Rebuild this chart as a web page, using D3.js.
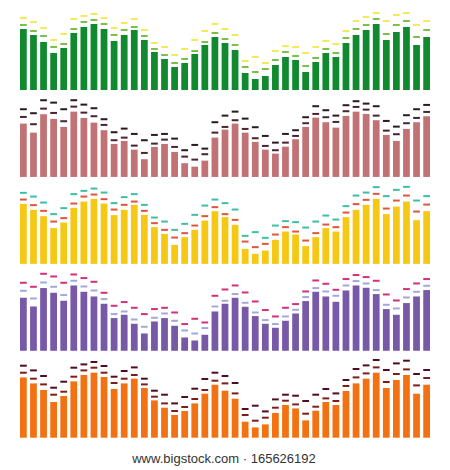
<!DOCTYPE html>
<html>
<head>
<meta charset="utf-8">
<script src="https://cdn.jsdelivr.net/npm/d3@7/dist/d3.min.js"></script>
<style>
  html, body { margin: 0; padding: 0; background: #ffffff; }
  svg { display: block; }
</style>
</head>
<body>
<script>
// ---- DATA ----
const bands = ["green", "rose", "yellow", "purple", "orange"];

const greenBars  = [61,55,48,37,42,57,63,66,61,49,55,60,50,38,31,23,27,36,45,53,47,40,17,11,14,25,33,30,18,28,37,33,47,55,60,66,50,58,63,45,53];
const greenLow   = [65,59,54,43,46,61,68,70,66,55,60,63,54,41,35,27,31,39,48,57,51,45,23,18,21,30,38,34,24,32,41,37,52,61,65,71,56,65,69,53,60];
const greenHigh  = [72,68,62,50,56,71,74,76,72,62,67,71,60,47,43,35,41,50,59,66,61,55,29,33,27,39,44,43,37,43,49,46,59,69,73,77,69,75,77,65,69];

const roseBars   = [53.3,44.3,62.7,58,50,65.3,59,54.3,46.7,33,36,27.3,17.7,30,33,25,13.7,10.3,16.3,39.3,47.3,53.3,44.3,35,27.3,23.3,30.3,37.7,50,59.3,54.7,49.3,61,65.3,63,56.7,42,36,48,54.7,60.7];
const roseLow    = [60,52.7,68.3,64,55.7,70.3,64.3,60.7,52,36.7,39.3,31.3,24,33.3,37.3,30,20.3,17.3,22.7,44.3,50,56.7,48,38.7,31,26.7,34.3,41,53.7,63,59.7,55,65.7,70,67.3,61.3,46.3,42.7,53.7,59,65];
const roseHigh   = [67.7,63.7,76.7,74.3,67.7,76.7,72.3,68.7,57.7,44.7,48.3,43,36.7,42,43,38.3,26.7,32,28.3,54.7,61.3,65.3,58.3,49.7,41,34.3,43,46.7,59.7,70.7,66.7,61.3,71.7,75.7,73.3,70.7,56,50.3,61.7,67.7,72];

const yellowBars = [60,54,47.7,35.7,41.3,56,62.3,65,60.3,48.7,54,59,49,36.7,30,19,26.7,34,43.3,52.7,46.7,39,15,10,13.3,24,32.3,29.3,17.7,26.7,35.7,32.3,46.7,54,59,65,49.7,57.3,62.3,43.7,52.7];
const yellowLow  = [64.3,58.7,53,42.3,45.7,60.3,67.3,69.3,64.7,54.3,59,62.3,53,40.7,34,26.3,30.7,38.3,47.7,56.7,49.7,44,22.3,16.7,20,29.3,36.7,32.3,23.3,30.7,39.3,36.7,51.3,59.7,64,70,55.3,63.3,68.3,52.3,59.3];
const yellowHigh = [71,67.3,61.3,49.7,55.7,69.7,73,75.3,71.3,60.7,66.7,69.7,59,46.3,42.3,34,40,49,58.3,64.3,60.7,54.3,28,31.7,26,38.3,42.7,41.7,36.3,42.3,48.3,44.3,57.7,68.3,71.3,76.7,67.7,74,77,63.3,67.7];

const purpleBars = [53,44.3,62.7,58,50,65.3,59,54.3,47,32.7,36,27,17.3,29.3,32.7,25,13.3,10.3,16,39.3,47,53,44,34.7,27,23,30,37.3,49.7,59,54.3,49,60.3,65.3,63,56.7,41.7,36,47.7,54.3,60.7];
const purpleLow  = [60,52.3,68.3,64,55.7,70,64.3,60.3,51.7,36.7,39.3,31.3,24,33,37.3,30,20.3,17.3,22.7,44.3,50,56.7,48,38.3,30.7,26.7,34.3,41,53.7,62.7,59.3,55,65.3,69.7,67.3,60.7,46,42.3,53.3,59,65];
const purpleHigh = [68,64,77,74.3,68,76.3,72.7,69,58,45,48.7,43,36.7,41.7,43,38.3,26.7,32,28.3,55,61.3,65.3,58.3,49.3,40.7,34.3,43,46.7,59.3,70.3,67,61,71.7,75.7,73.7,70,56.3,50.3,61.7,67.3,71.7];

const orangeBars = [60.3,54.3,47.7,35.7,41.7,56.3,62.7,65,60.7,48.7,54.3,59,49.7,37.3,30,22.7,26.7,34.3,44,53,47,39,16,10.3,13.3,24.7,32.7,29.3,17.3,27,35.7,32.7,46.7,54.3,59,65,49.7,57.7,62.7,44,53];
const orangeLow  = [65,59,53.3,43,46,61,67.3,70,65,54.7,59,62.7,53.3,41,34.3,26.7,30.7,38.7,47.7,57,54.3,44.3,22.7,17,20,30,37,33.3,24,31,39.3,36.7,51.7,60.3,64.3,70.3,55.7,63.7,68.3,52.3,59.7];
const orangeHigh = [72,67.3,61.7,50,56,70,73.3,75.7,71.7,61,66.7,70.3,59,47,43,34.3,40.7,49,58.7,65,61.7,54.7,28.7,32,26.3,38.3,43,42,36.7,43,48.7,44.3,57.7,68.7,72.3,77.7,67.7,74.3,77,63.7,67.7];

const footerText = "www.bigstock.com \u00b7 165626192";

// ---- STYLE ----
const series = [
  { bars: greenBars,  low: greenLow,  high: greenHigh,  c: ["#118a2f", "#7cc04a", "#f3ea55"] },
  { bars: roseBars,   low: roseLow,   high: roseHigh,   c: ["#c17274", "#4a2331", "#2a1a22"] },
  { bars: yellowBars, low: yellowLow, high: yellowHigh, c: ["#f6c816", "#e0553c", "#3cbfa6"] },
  { bars: purpleBars, low: purpleLow, high: purpleHigh, c: ["#7859a8", "#a2a9d8", "#d43079"] },
  { bars: orangeBars, low: orangeLow, high: orangeHigh, c: ["#f27112", "#7e1e1c", "#4f0e1f"] }
];

const W = 450, H = 470;
const svg = d3.select("body").append("svg").attr("width", W).attr("height", H);

const idx = d3.range(greenBars.length);
const x = d3.scaleBand().domain(idx).range([20, 430]).paddingInner(0.33).paddingOuter(0);
const bandBottom = d3.scalePoint().domain(bands).range([90, 437.7]);

series.forEach((s, bi) => {
  const b = bandBottom(bands[bi]);
  const y = d3.scaleLinear().domain([0, 80]).range([b, b - 80]);
  const g = svg.append("g");
  g.selectAll("rect.bar").data(s.bars).join("rect")
    .attr("class", "bar")
    .attr("x", (d, i) => x(i)).attr("width", x.bandwidth())
    .attr("y", d => y(d)).attr("height", d => y(0) - y(d))
    .attr("fill", s.c[0]);
  g.selectAll("rect.low").data(s.low).join("rect")
    .attr("class", "low")
    .attr("x", (d, i) => x(i)).attr("width", x.bandwidth())
    .attr("y", d => y(d) - 1).attr("height", 2)
    .attr("fill", s.c[1]);
  g.selectAll("rect.high").data(s.high).join("rect")
    .attr("class", "high")
    .attr("x", (d, i) => x(i)).attr("width", x.bandwidth())
    .attr("y", d => y(d) - 1).attr("height", 2)
    .attr("fill", s.c[2]);
});

svg.append("text")
  .attr("x", 224).attr("y", 463)
  .attr("text-anchor", "middle")
  .attr("font-family", "'Liberation Sans', Arial, sans-serif")
  .attr("font-size", 13)
  .attr("fill", "#333333")
  .text(footerText);
</script>
</body>
</html>
